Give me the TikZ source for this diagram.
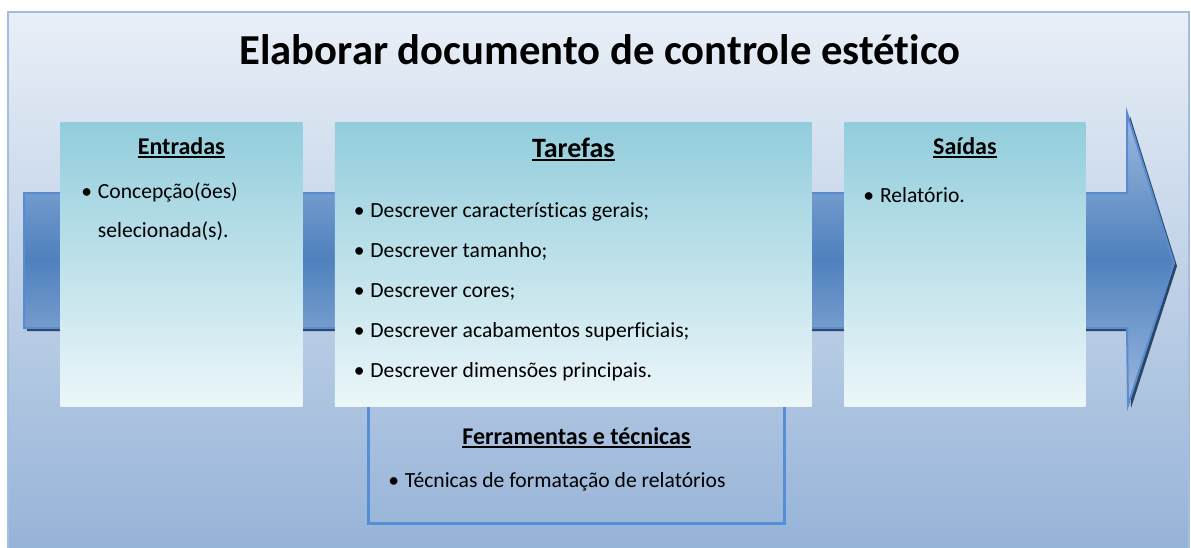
\documentclass[tikz,border=0pt]{standalone}
\usepackage{fontspec}
\setmainfont{Carlito}[Ligatures=NoCommon]
\usepackage{xcolor}
\usetikzlibrary{positioning}

\definecolor{frametop}{HTML}{E9EFF7}
\definecolor{framebot}{HTML}{94B2D7}
\definecolor{frameline}{HTML}{A3BDE0}
\definecolor{arrowlt}{HTML}{9DB9E0}
\definecolor{arrowmid}{HTML}{4F81BD}
\definecolor{arrowline}{HTML}{5A8BCF}
\definecolor{arrowshadow}{HTML}{2A4666}
\definecolor{boxtop}{HTML}{92CDDC}
\definecolor{boxbot}{HTML}{ECF6F9}
\definecolor{toolline}{HTML}{558ED5}

\newcommand{\bul}{\makebox[12.5pt][l]{\textbullet}}
\newcommand{\hd}[1]{\setbox0\hbox{#1}\rlap{\rule[-3.3pt]{\wd0}{1.6pt}}\box0}

\begin{document}
\begin{tikzpicture}[x=0.75pt, y=-0.75pt,
  box/.style={inner sep=0pt, minimum width=181.5pt, minimum height=213pt, top color=boxtop, bottom color=boxbot},
  toolbox/.style={draw=toolline, line width=2.25pt, inner sep=0pt, minimum width=312pt, minimum height=105pt},
  head/.style={anchor=base, font=\fontsize{18pt}{22pt}\selectfont\bfseries},
  list/.style={anchor=base west, align=left, inner sep=0pt, font=\fontsize{16.2pt}{30pt}\selectfont}
]
  \useasboundingbox (0,0) rectangle (1191,547);
  \clip (0,0) rectangle (1191,547);

  % fundo
  \fill[top color=frametop, bottom color=framebot] (8,12) rectangle (1189,560);
  \draw[frameline, line width=1.5pt] (8,560) |- (1189,12) -- (1189,560);

  \node[anchor=base, font=\fontsize{32pt}{38pt}\selectfont\bfseries] (title) at (600,64) {Elaborar documento de controle estético};

  % seta
  \fill[arrowshadow, shift={(3,3)}] (24,193) -- (1127,193) -- (1127,113) -- (1174,263) -- (1128,405) -- (1127,328) -- (24,328) -- cycle;
  \fill[top color=arrowlt, bottom color=arrowlt, middle color=arrowmid] (24,193) -- (1127,193) -- (1127,113) -- (1174,263) -- (1128,405) -- (1127,328) -- (24,328) -- cycle;
  \draw[arrowline, line width=1.5pt] (24,193) -- (1127,193) -- (1127,113) -- (1174,263) -- (1128,405) -- (1127,328) -- (24,328) -- cycle;

  \node[toolbox, anchor=south west] (frm) at (367,525) {};

  \node[box, anchor=north west] (ent) at (60,122) {};
  \node[box, right=24pt of ent, minimum width=357.75pt] (tar) {};
  \node[box, right=24pt of tar, minimum width=180.75pt] (sai) {};

  \node[head] (entH) at ([yshift=-24pt]ent.north) {\hd{Entradas}};
  \node[head, font=\fontsize{21pt}{25pt}\selectfont\bfseries] (tarH) at ([yshift=-26.25pt]tar.north) {\hd{Tarefas}};
  \node[head] (saiH) at ([yshift=-24pt]sai.north) {\hd{Saídas}};
  \node[head] (frmH) at ([yshift=60.75pt]frm.south) {\hd{Ferramentas e técnicas}};

  % listas: a base e a da ultima linha
  \node[list, font=\fontsize{16.2pt}{29.25pt}\selectfont] (entL) at ([xshift=15.75pt, yshift=-86.25pt]ent.north west)
    {\bul Concepção(ões)\\\hspace*{12.5pt}selecionada(s).};
  \node[list] (tarL) at ([xshift=14.25pt, yshift=-191.25pt]tar.north west)
    {\bul Descrever características gerais;\\
     \bul Descrever tamanho;\\
     \bul Descrever cores;\\
     \bul Descrever acabamentos superficiais;\\
     \bul Descrever dimensões principais.};
  \node[list] (saiL) at ([xshift=14.25pt, yshift=-60pt]sai.north west) {\bul Relatório.};
  \node[list] (frmL) at ([xshift=15.75pt, yshift=28.5pt]frm.south west) {\bul Técnicas de formatação de relatórios};
\end{tikzpicture}
\end{document}
